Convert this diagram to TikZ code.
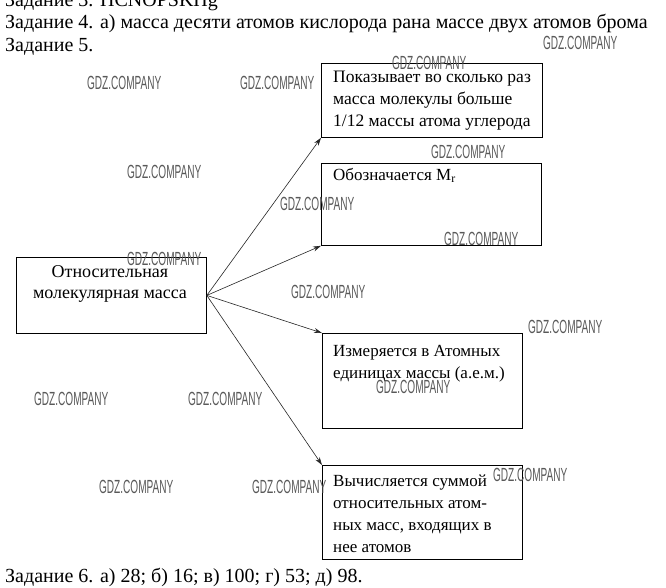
\documentclass[tikz,border=0pt]{standalone}
\usepackage{fontspec}
\setmainfont{Liberation Serif}
\newfontfamily\wmfont{Liberation Sans}
\usetikzlibrary{arrows.meta}
\begin{document}
\begin{tikzpicture}[x=1pt,y=-1pt,
  box/.style={draw=black, line width=0.8pt, anchor=north west, inner sep=0pt},
  boxtext/.style={anchor=base west, inner sep=0pt, align=left, font=\fontsize{17}{22}\selectfont},
  toptext/.style={anchor=base west, inner sep=0pt, font=\fontsize{20}{22}\selectfont},
  wm/.style={anchor=west, inner sep=0pt, text=black!65, font=\wmfont\fontsize{19}{19}\selectfont, xscale=0.53},
  arr/.style={draw=black!85, line width=0.6pt, -{Stealth[length=8pt,width=5pt]}}]
\useasboundingbox[fill=white] (0,0) rectangle (666,587);

% header and footer text
\node[toptext] (z3) at (5,6) {Задание 3. HCNOPSKHg};
\node[toptext] (z4) at (5,28) {Задание 4. а) масса десяти атомов кислорода рана массе двух атомов брома};
\node[toptext] (z5) at (5,51) {Задание 5.};
\node[toptext] (z6) at (5,582) {Задание 6. а) 28; б) 16; в) 100; г) 53; д) 98.};

% boxes
\node[box, minimum width=190, minimum height=76] (lb) at (16,257) {};
\node[box, minimum width=221, minimum height=74] (b1) at (321,63) {};
\node[box, minimum width=220, minimum height=82] (b2) at (321,163) {};
\node[box, minimum width=200, minimum height=95] (b3) at (322,333) {};
\node[box, minimum width=200, minimum height=94] (b4) at (322,465) {};

% box texts (base anchor = baseline of the last line)
\node[boxtext, anchor=base, align=center, font=\fontsize{18}{21}\selectfont] (tl) at (110,298) {Относительная\\молекулярная масса};
\node[boxtext, font=\fontsize{17.5}{22}\selectfont] (t1) at (333,126) {Показывает во сколько раз\\масса молекулы больше\\1/12 массы атома углерода};
\node[boxtext] (t2) at (333,180) {Обозначается M\textsubscript{r}};
\node[boxtext] (t3) at (333,378) {Измеряется в Атомных\\единицах массы (а.е.м.)};
\node[boxtext] (t4) at (333,552) {Вычисляется суммой\\относительных атом-\\ных масс, входящих в\\нее атомов};

% arrows
\draw[arr] (lb.east) -- (b1.south west);
\draw[arr] (lb.east) -- (b2.south west);
\draw[arr] (lb.east) -- (b3.north west);
\draw[arr] (lb.east) -- (b4.north west);

% watermarks
\foreach \wx/\wy [count=\i] in {543/43, 392/63, 87/83, 240/83, 431/152, 127/172, 280/204, 444/239, 127/259, 291/292, 528/327, 376/387, 34/399, 188/399, 493/475, 99/487, 252/487}
  \node[wm] (w\i) at (\wx,\wy) {GDZ.COMPANY};
\end{tikzpicture}
\end{document}
